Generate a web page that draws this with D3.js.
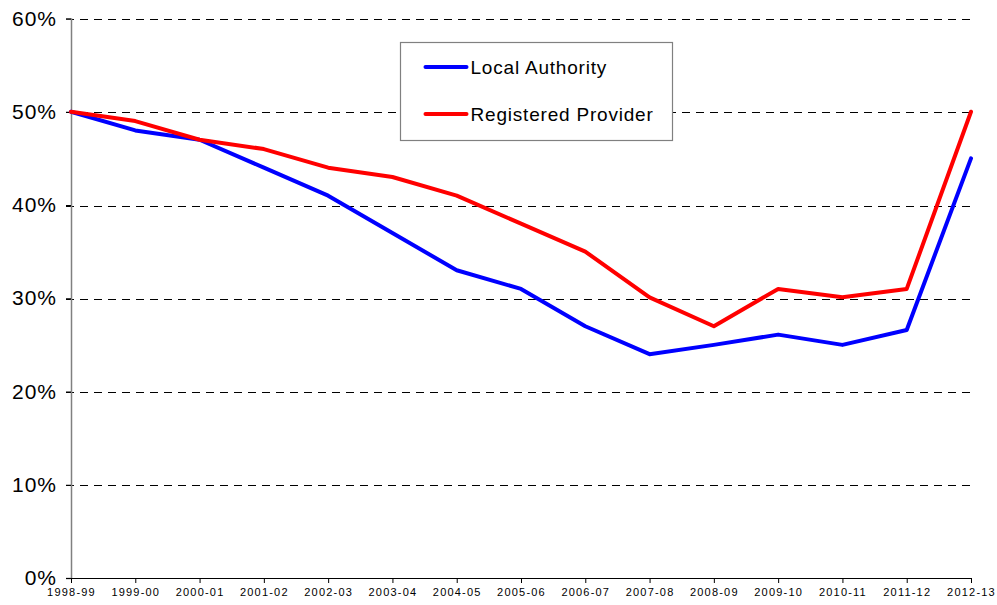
<!DOCTYPE html>
<html lang="en">
<head>
    <meta charset="utf-8">
    <title>Local Authority vs Registered Provider</title>
    <script type="text/javascript" src="https://cdn.jsdelivr.net/npm/d3@7"></script>
    <style>
        html, body {
            margin: 0;
            padding: 0;
            background: #fff;
        }
        text {
            font-family: Arial, "Liberation Sans", sans-serif;
            fill: #000;
        }
        .grid line {
            stroke: #000;
            stroke-width: 1px;
            stroke-dasharray: 8,6;
            shape-rendering: crispEdges;
        }
        path.line {
            fill: none;
            stroke-width: 4px;
            stroke-linejoin: round;
            stroke-linecap: round;
        }
    </style>
</head>
<body>
<script type="text/javascript">
    var years = ["1998-99", "1999-00", "2000-01", "2001-02", "2002-03", "2003-04", "2004-05",
        "2005-06", "2006-07", "2007-08", "2008-09", "2009-10", "2010-11", "2011-12", "2012-13"];
    var localAuthority = [50, 48, 47, 44, 41, 37, 33, 31, 27, 24, 25, 26.1, 25, 26.6, 45];
    var registeredProvider = [50, 49, 47, 46, 44, 43, 41, 38, 35, 30.1, 27, 31, 30.1, 31, 50];
    var yTicks = [0, 10, 20, 30, 40, 50, 60];

    var series = [
        {name: "Local Authority", values: localAuthority, color: "#0000ff"},
        {name: "Registered Provider", values: registeredProvider, color: "#ff0000"}
    ];

    var margin = {left: 71, right: 26, top: 18.5, bottom: 27};
    var width = 997 - margin.left - margin.right;
    var height = 605 - margin.top - margin.bottom;

    var svg = d3.select("body").append("svg").attr("width", 997).attr("height", 605);
    var g = svg.append("g").attr("transform", "translate(" + margin.left + "," + margin.top + ")");

    var x = d3.scalePoint().domain(years).range([0, width]);
    var y = d3.scaleLinear().domain([0, 60]).range([height, 0]);

    // dashed gridlines
    g.append("g").attr("class", "grid")
        .selectAll("line")
        .data(yTicks.filter(function(d) { return d > 0; }))
        .enter().append("line")
        .attr("x1", -5).attr("x2", width)
        .attr("y1", function(d) { return Math.round(y(d)) + 0.5; })
        .attr("y2", function(d) { return Math.round(y(d)) + 0.5; });

    // y axis
    var yAxis = g.append("g")
        .call(d3.axisLeft(y).tickValues(yTicks).tickSize(5).tickFormat(function(d) { return d + "%"; }));
    yAxis.select(".domain").attr("stroke", "#808080").attr("stroke-width", 1.5);
    yAxis.selectAll(".tick line").attr("stroke", "#000");
    yAxis.selectAll("text")
        .attr("x", -14)
        .style("font-size", "21px")
        .style("letter-spacing", "1px");

    // x axis
    var xAxis = g.append("g")
        .attr("transform", "translate(0," + height + ")")
        .call(d3.axisBottom(x).tickSizeInner(5).tickSizeOuter(0));
    xAxis.select(".domain").attr("stroke", "#000").attr("stroke-width", 1.2);
    xAxis.selectAll(".tick line").attr("stroke", "#000");
    xAxis.selectAll("text")
        .attr("y", 10)
        .style("font-size", "11px")
        .style("letter-spacing", "1.2px");

    var line = d3.line()
        .x(function(d, i) { return x(years[i]); })
        .y(function(d) { return y(d); });

    g.selectAll("path.line")
        .data(series)
        .enter().append("path")
        .attr("class", "line")
        .attr("stroke", function(d) { return d.color; })
        .attr("d", function(d) { return line(d.values); });

    // legend
    var legend = svg.append("g").attr("transform", "translate(400.5,42.5)");
    legend.append("rect")
        .attr("width", 272).attr("height", 98)
        .attr("fill", "#fff")
        .attr("stroke", "#808080")
        .attr("stroke-width", 1.2);
    var item = legend.selectAll("g.item")
        .data(series)
        .enter().append("g")
        .attr("class", "item")
        .attr("transform", function(d, i) { return "translate(0," + (24.5 + i * 47) + ")"; });
    item.append("line")
        .attr("x1", 25).attr("x2", 66)
        .attr("stroke", function(d) { return d.color; })
        .attr("stroke-width", 4)
        .attr("stroke-linecap", "round");
    item.append("text")
        .attr("x", 70)
        .attr("dy", "0.35em")
        .style("font-size", "19px")
        .style("letter-spacing", "0.8px")
        .text(function(d) { return d.name; });
</script>
</body>
</html>
